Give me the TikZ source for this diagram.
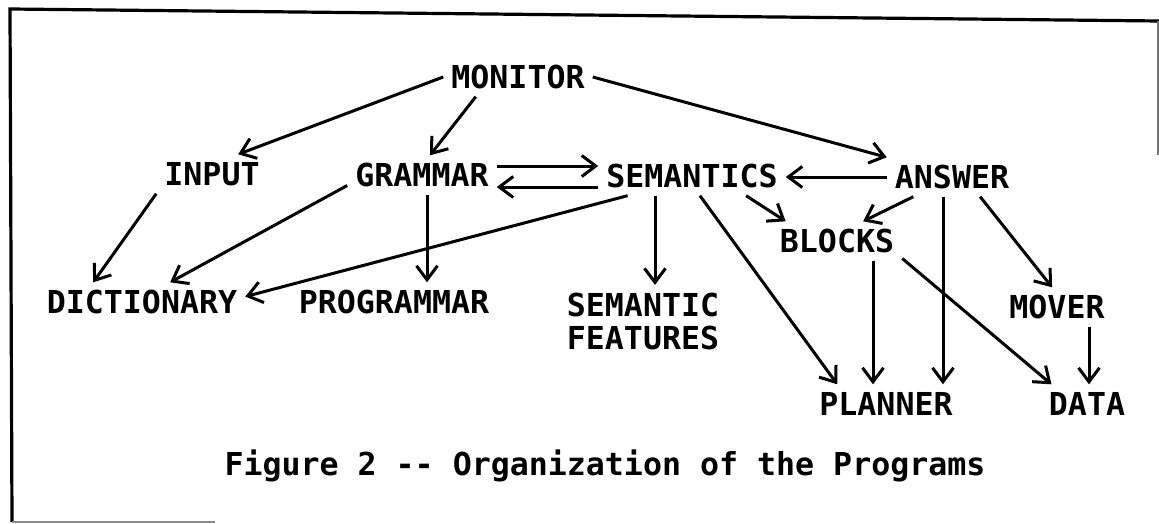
\documentclass[tikz,border=0pt]{standalone}
\usepackage{fontspec}
\newfontfamily\printerfont{DejaVu Sans Mono}
\usetikzlibrary{arrows.meta}

\begin{document}
\begin{tikzpicture}[
  x=1pt, y=-1pt,
  every node/.style={font=\printerfont\bfseries\fontsize{31.6}{33}\selectfont, inner sep=8pt},
  prog/.style={text height=23pt, text depth=0pt},
  call/.style={-{Straight Barb[length=14pt,width=21pt]}, line width=3pt},
  frame/.style={line width=3.2pt}
]
\useasboundingbox (0,0) rectangle (1159,524);

% frame
\draw[frame] (1159,21) -- (10,9) -- (12,522);
\draw[line width=1.4pt, black!55] (1158,21) -- (1158,155);
\draw[line width=1.2pt, black!45] (12,522) -- (215,522);

% programs
\node[prog] (monitor) at (518,77) {MONITOR};
\node[prog] (input) at (212,174) {INPUT};
\node[prog] (grammar) at (422,175) {GRAMMAR};
\node[prog] (semantics) at (692,176) {SEMANTICS};
\node[prog] (answer) at (952,177) {ANSWER};
\node[prog] (blocks) at (837,241) {BLOCKS};
\node[prog] (dictionary) at (142,302) {DICTIONARY};
\node[prog] (programmar) at (394,302) {PROGRAMMAR};
\node[align=center] (features) at (643,321.5) {SEMANTIC\\FEATURES};
\node[prog] (mover) at (1057,307) {MOVER};
\node[prog] (planner) at (886,404) {PLANNER};
\node[prog] (data) at (1087,404) {DATA};
\node[anchor=base] (caption) at (605,475) {Figure 2 {-}{-} Organization of the Programs};

% calls
\foreach \from/\to in {
  monitor.west/input.37,
  monitor.205/grammar.68,
  monitor.east/answer.north west,
  semantics.340/blocks.159,
  semantics.197/dictionary.3,
  semantics.292/planner.158,
  input.south west/dictionary.158,
  grammar.188/dictionary.35,
  answer.207/blocks.37,
  answer.325/mover.104,
  blocks.345/data.151}
  \draw[call] (\from) -- (\to);

\foreach \from/\dx/\to in {
  grammar/5/programmar,
  semantics/-37/features,
  answer/-9/planner,
  blocks/36/planner,
  mover/32/data}
  \draw[call] ([xshift=\dx pt]\from.south) -- ([xshift=\dx pt]\from.south |- \to.north);

\draw[call] ([yshift=9pt]grammar.east) -- ([yshift=9pt]grammar.east -| semantics.west);
\draw[call] ([yshift=-11pt]semantics.west) -- ([yshift=-11pt]semantics.west -| grammar.east);
\draw[call] (answer.west) -- (answer.west -| semantics.east);
\end{tikzpicture}
\end{document}
